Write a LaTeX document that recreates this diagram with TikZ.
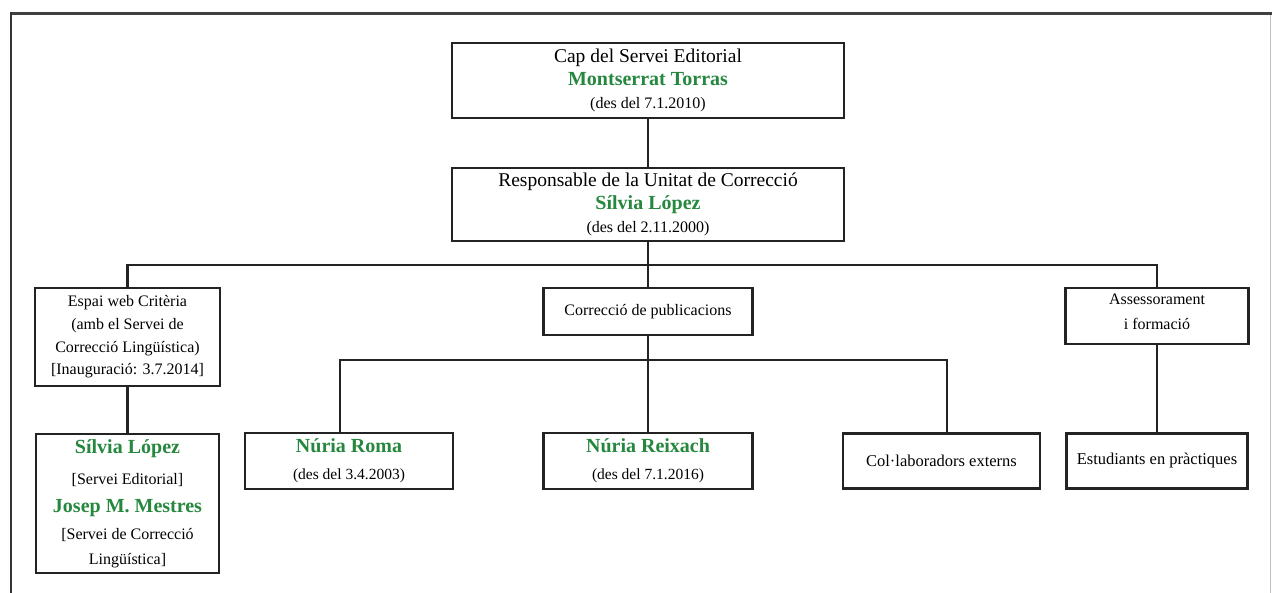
\documentclass[tikz,border=0pt]{standalone}
\usepackage{fontspec}
\setmainfont{Liberation Serif}
\definecolor{namegreen}{RGB}{38,135,62}
\definecolor{inkc}{RGB}{35,35,35}
\newcommand{\nm}[1]{{\fontsize{20}{20}\selectfont\bfseries\color{namegreen}#1}}
\newcommand{\dt}[1]{{\fontsize{15.5}{15.5}\selectfont #1}}
\begin{document}
\begin{tikzpicture}[x=1pt,y=-1pt,
  orgbox/.style={draw=inkc, line width=2.8pt, rectangle, align=center, inner sep=0pt, text=black},
  bigtxt/.style={font=\fontsize{19.5}{22.7}\selectfont},
  smalltxt/.style={font=\fontsize{16}{22.7}\selectfont},
  conn/.style={draw=inkc, line width=2.2pt}]
\useasboundingbox (0,0) rectangle (1272,593);
% frame
\draw[line width=3pt, black!75] (10,14) -- (1272,14);
\draw[line width=2pt, black!80] (11,12.5) -- (11,593);
\draw[line width=1pt, black!25] (1270,15.5) -- (1270,593);
% boxes
\node[orgbox, bigtxt, minimum width=392, minimum height=75] (cap) at (648,80.5)
  {Cap del Servei Editorial\\ \nm{Montserrat Torras}\\ {\fontsize{16}{16}\selectfont (des del 7.1.2010)}};
\node[orgbox, bigtxt, minimum width=392, minimum height=73] (resp) at (648,204.5)
  {Responsable de la Unitat de Correcció\\ \nm{Sílvia López}\\ {\fontsize{16}{16}\selectfont (des del 2.11.2000)}};
\node[orgbox, smalltxt, minimum width=185, minimum height=98] (espai) at (127.5,337)
  {Espai web Critèria\\ (amb el Servei de\\ Correcció Lingüística)\\ {[}Inauguració: 3.7.2014{]}};
\node[orgbox, smalltxt, minimum width=209, minimum height=47] (corr) at (648,311.5)
  {Correcció de publicacions};
\node[orgbox, smalltxt, font=\fontsize{16}{25}\selectfont, minimum width=183, minimum height=56] (assess) at (1157,316)
  {Assessorament\\ i formació\\[-17pt]\mbox{}};
\node[orgbox, smalltxt, font=\fontsize{16}{27.5}\selectfont, minimum width=183, minimum height=139] (pers) at (127.5,503.5)
  {\nm{Sílvia López}\\[3.5pt] {[}Servei Editorial{]}\\[0.5pt] \nm{Josep M. Mestres}\\[-0.5pt] {[}Servei de Correcció\\[-2.5pt] Lingüística{]}};
\node[orgbox, smalltxt, font=\fontsize{16}{27}\selectfont, minimum width=208, minimum height=56] (roma) at (349,461)
  {\nm{Núria Roma}\\ \dt{(des del 3.4.2003)}};
\node[orgbox, smalltxt, font=\fontsize{16}{27}\selectfont, minimum width=209, minimum height=56] (reix) at (648,461)
  {\nm{Núria Reixach}\\ \dt{(des del 7.1.2016)}};
\node[orgbox, smalltxt, font=\fontsize{16.5}{20}\selectfont, minimum width=197, minimum height=55] (colab) at (941.5,461)
  {Col·laboradors externs};
\node[orgbox, smalltxt, font=\fontsize{16.5}{20}\selectfont, minimum width=181, minimum height=55] (estud) at (1157,461)
  {Estudiants en pràctiques};
% bus coordinates
\coordinate (bus1) at (0,265);
\coordinate (bus2) at (0,360);
\coordinate (c1) at (340,0);
\coordinate (c3) at (947,0);
% connectors
\draw[conn] (cap.south) -- (resp.north);
\draw[conn] (resp.south) -- (resp.south |- bus1);
\draw[conn] (espai.north) -- (espai.north |- bus1) -- (assess.north |- bus1) -- (assess.north);
\draw[conn] (corr.north |- bus1) -- (corr.north);
\draw[conn] (espai.south) -- (pers.north);
\draw[conn] (assess.south) -- (estud.north);
\draw[conn] (corr.south) -- (corr.south |- bus2);
\draw[conn] (roma.north -| c1) -- (c1 |- bus2) -- (c3 |- bus2) -- (colab.north -| c3);
\draw[conn] (corr.south |- bus2) -- (reix.north);
\end{tikzpicture}
\end{document}
